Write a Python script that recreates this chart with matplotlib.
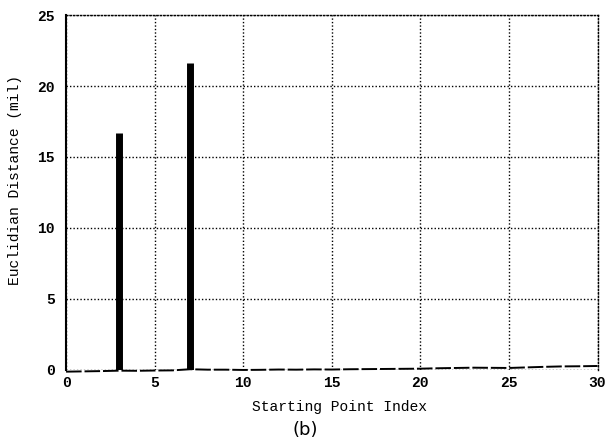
import matplotlib
matplotlib.use("Agg")
import matplotlib.pyplot as plt

# Data
x_index = list(range(0, 31))
distance = [-0.12, -0.10, -0.08, -0.05, -0.06, -0.04, -0.03, 0.05, 0.02, 0.02,
            0.0, 0.01, 0.03, 0.02, 0.04, 0.03, 0.05, 0.06, 0.07, 0.08,
            0.09, 0.12, 0.14, 0.16, 0.15, 0.14, 0.18, 0.22, 0.25, 0.26, 0.28]
spike_x = [3, 7]
spike_y = [16.7, 21.6]
xticks = [0, 5, 10, 15, 20, 25, 30]
yticks = [0, 5, 10, 15, 20, 25]

mono = ["Liberation Mono", "DejaVu Sans Mono"]

fig = plt.figure(figsize=(6.06, 4.42), dpi=100)
ax = fig.add_axes([0.109, 0.163, 0.877, 0.803])

ax.plot(x_index, distance, color="black", lw=1.4, dashes=(8, 1.5), zorder=3,
        clip_on=False)
ax.vlines(spike_x, 0, spike_y, color="black", lw=5, zorder=4)

ax.set_xlim(0, 30)
ax.set_ylim(0, 25)
ax.set_xticks(xticks)
ax.set_yticks(yticks)
ax.grid(True, color="black", linestyle=(0, (1, 1.5)), lw=1.0)
ax.tick_params(length=0, labelsize=10.5)
ax.tick_params(axis="x", pad=4)
ax.tick_params(axis="y", pad=8)
for lab in ax.get_xticklabels() + ax.get_yticklabels():
    lab.set_family(mono)
    lab.set_fontweight("bold")

for s in ["top", "right"]:
    ax.spines[s].set_linestyle((0, (1, 1.5)))
    ax.spines[s].set_linewidth(1.0)
ax.spines["bottom"].set_visible(False)
ax.spines["left"].set_linewidth(1.5)

fig.text(340 / 606, 1 - 407 / 442, "Starting Point Index", family=mono,
         fontsize=10.5, ha="center", va="center")
fig.text(15 / 606, 1 - 180 / 442, "Euclidian Distance (mil)", family=mono,
         fontsize=10.5, ha="center", va="center", rotation=90)

fig.text(305 / 606, 1 - 430 / 442, "(b)", fontsize=13, family="DejaVu Sans",
         ha="center", va="center")

fig.savefig("out.png", dpi=100)
